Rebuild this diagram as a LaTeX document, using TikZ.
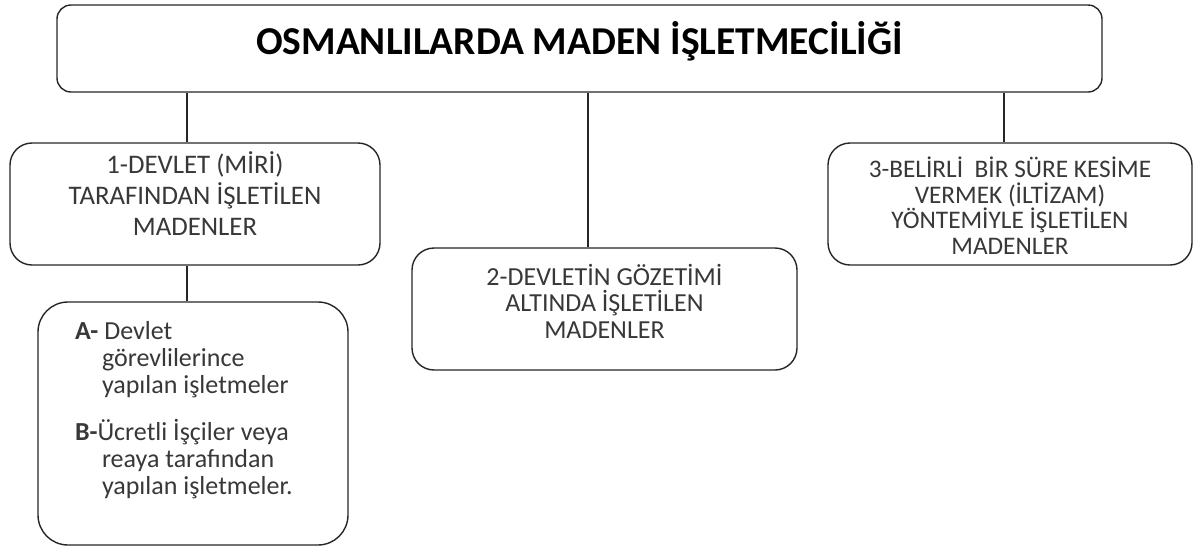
\documentclass[tikz,border=0pt]{standalone}
\usepackage{fontspec}
\setmainfont{Carlito}
\usetikzlibrary{positioning}

\tikzset{
  kutu/.style={draw=black!85, line width=1.4pt, rounded corners=22pt, inner sep=0pt, fill=white, text=black!78},
  hat/.style={draw=black!85, line width=1.4pt},
}
% width, height, top gap, line skip, text
\newcommand{\kutuyazi}[5]{\parbox[t][#2][t]{#1}{\fontsize{26pt}{#4}\selectfont\vspace*{#3}\centering #5\par}}

\begin{document}
\begin{tikzpicture}[x=1pt,y=-1pt]
    \useasboundingbox (0,0) rectangle (1195,547);

    \node[kutu, rounded corners=14pt, text=black] (title) at (579.5,48.5)
        {\parbox[t][87pt][t]{1045pt}{\fontsize{39.5pt}{40pt}\selectfont\vspace*{16pt}\centering\bfseries OSMANLILARDA MADEN İŞLETMECİLİĞİ\par}};

    \node[kutu] (miri) at (195,204)
        {\kutuyazi{370pt}{122pt}{9pt}{31pt}{\fontsize{26.8pt}{31pt}\selectfont 1-DEVLET (MİRİ)\\ TARAFINDAN İŞLETİLEN\\ MADENLER}};
    \node[kutu] (gozetim) at (604.5,309)
        {\kutuyazi{385pt}{122pt}{16pt}{26.5pt}{2-DEVLETİN GÖZETİMİ\\ ALTINDA İŞLETİLEN\\ MADENLER}};
    \node[kutu] (iltizam) at (1010,204)
        {\kutuyazi{364pt}{122pt}{14pt}{25.5pt}{\fontsize{25.3pt}{25.5pt}\selectfont 3-BELİRLİ \ BİR SÜRE KESİME\\ VERMEK (İLTİZAM)\\ YÖNTEMİYLE İŞLETİLEN\\ MADENLER}};

    \node[kutu, rounded corners=30pt] (devlet) at (193,423.5)
        {\parbox[t][243pt][t]{310pt}{\fontsize{26pt}{27pt}\selectfont\vspace*{19pt}\raggedright\leftskip=37pt\noindent
            \textbf{A-} Devlet\\ \hspace*{27pt}görevlilerince\\ \hspace*{27pt}yapılan işletmeler\\[20pt]
            \textbf{B-}Ücretli İşçiler veya\\ \hspace*{27pt}reaya tarafından\\ \hspace*{27pt}yapılan işletmeler.\par}};

    % vertical connectors
    \draw[hat] ([xshift=-8pt]miri.north) -- ([xshift=-8pt]miri.north |- title.south);
    \draw[hat] ([xshift=-16.5pt]gozetim.north) -- ([xshift=-16.5pt]gozetim.north |- title.south);
    \draw[hat] ([xshift=-6pt]iltizam.north) -- ([xshift=-6pt]iltizam.north |- title.south);
    \draw[hat] ([xshift=-6pt]devlet.north) -- ([xshift=-6pt]devlet.north |- miri.south);
\end{tikzpicture}
\end{document}
